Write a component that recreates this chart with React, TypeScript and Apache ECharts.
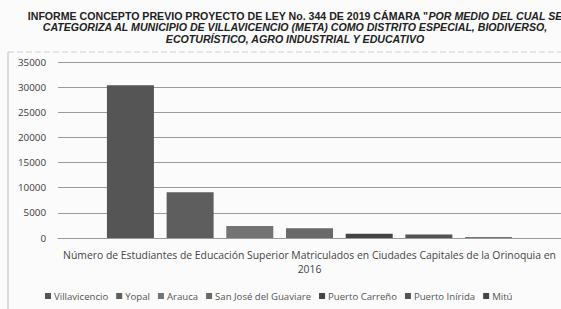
import React, { useEffect, useRef } from "react";
import * as echarts from "echarts";

const categories = [
  "Número de Estudiantes de Educación Superior Matriculados en Ciudades Capitales de la Orinoquia en 2016",
];
const seriesNames = [
  "Villavicencio",
  "Yopal",
  "Arauca",
  "San José del Guaviare",
  "Puerto Carreño",
  "Puerto Inírida",
  "Mitú",
];
const seriesValues = [30400, 9100, 2400, 1950, 850, 700, 150];
const seriesColors = ["#555555", "#5e5e5e", "#737373", "#696969", "#444444", "#535353", "#474747"];
const yTicks = { min: 0, max: 35000, interval: 5000 };

export default function App() {
  const ref = useRef<HTMLDivElement>(null);
  useEffect(() => {
    if (!ref.current) return;
    const chart = echarts.init(ref.current, undefined, { renderer: "svg" });
    const option: any = {
      animation: false,
      backgroundColor: "#fbfbfb",
      title: {
        left: 290,
        textAlign: "center",
        top: 5,
        text:
          '{n|INFORME CONCEPTO PREVIO PROYECTO DE LEY No. 344 DE 2019 CÁMARA "}{i|POR MEDIO DEL CUAL SE}\n{i|CATEGORIZA AL MUNICIPIO DE VILLAVICENCIO (META) COMO DISTRITO ESPECIAL, BIODIVERSO,}\n{i|ECOTURÍSTICO, AGRO INDUSTRIAL Y EDUCATIVO}',
        textStyle: {
          rich: {
            n: {
              fontFamily: "Liberation Sans",
              fontWeight: "bold",
              fontSize: 10.6,
              color: "#222",
              lineHeight: 11.5,
            },
            i: {
              fontFamily: "Liberation Sans",
              fontWeight: "bold",
              fontStyle: "italic",
              fontSize: 10.6,
              color: "#222",
              lineHeight: 11.5,
            },
          },
        },
      },
      graphic: [
        {
          type: "line",
          shape: { x1: 8, y1: 52, x2: 561, y2: 52 },
          style: { stroke: "#cfcfcf", lineWidth: 1, lineDash: [6, 3] },
        },
        {
          type: "line",
          shape: { x1: 8, y1: 52, x2: 8, y2: 309 },
          style: { stroke: "#bdbdbd", lineWidth: 1 },
        },
      ],
      grid: { left: 58, right: -2, top: 62, bottom: 71, containLabel: false },
      xAxis: {
        type: "category",
        data: categories,
        axisLine: { show: true, lineStyle: { color: "#9a9a9a" } },
        axisTick: { show: false },
        axisLabel: {
          margin: 10,
          fontFamily: "Open Sans",
          fontSize: 10.4,
          color: "#444",
          lineHeight: 14,
          formatter: (v: string) => v.replace(/ (2016)$/, "\n$1"),
        },
      },
      yAxis: {
        type: "value",
        min: yTicks.min,
        max: yTicks.max,
        interval: yTicks.interval,
        axisLine: { show: false },
        axisTick: { show: false },
        axisLabel: {
          margin: 12,
          fontFamily: "Open Sans",
          fontSize: 9.8,
          color: "#3a3a3a",
          formatter: (v: number) => String(v),
        },
        splitLine: { lineStyle: { color: "#9a9a9a", width: 1 } },
      },
      legend: {
        bottom: 3,
        left: 40,
        itemWidth: 6,
        itemHeight: 6,
        itemGap: 8,
        icon: "rect",
        textStyle: { fontFamily: "Open Sans", fontSize: 9.6, color: "#555", padding: [0, 0, 0, -2] },
        data: seriesNames,
      },
      series: seriesNames.map((name, i) => ({
        name,
        type: "bar",
        data: [seriesValues[i]],
        barWidth: 47,
        barGap: "27%",
        itemStyle: { color: seriesColors[i] },
      })),
    };
    chart.setOption(option);
    return () => chart.dispose();
  }, []);
  return <div ref={ref} style={{ position: "fixed", left: 0, top: 0, width: 561, height: 309 }} />;
}
